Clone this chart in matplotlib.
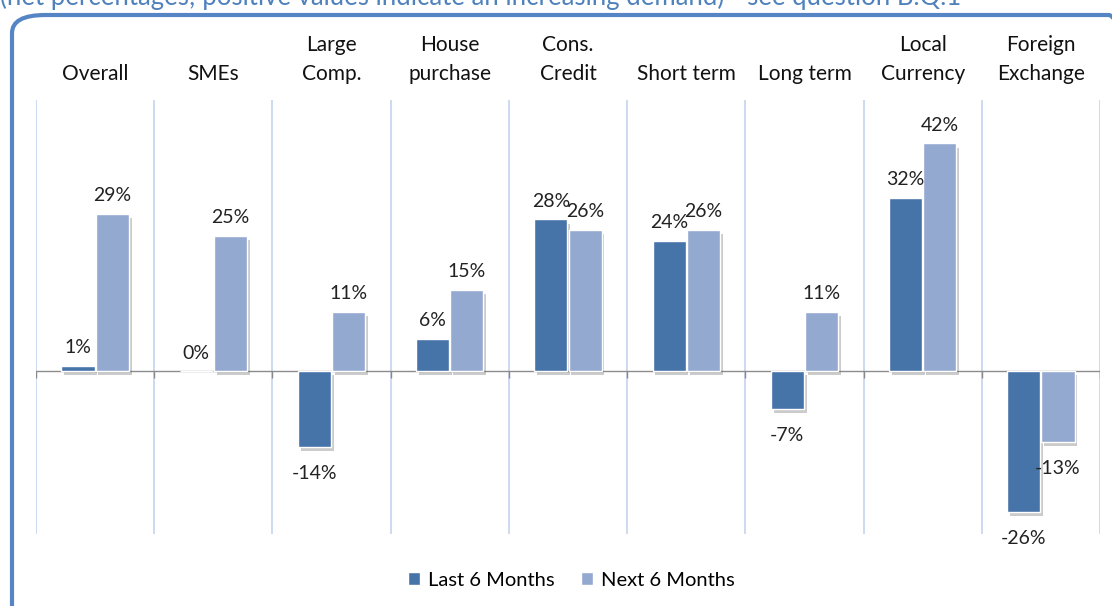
import numpy as np
import matplotlib.pyplot as plt
import matplotlib.patheffects as pe
from matplotlib.patches import FancyBboxPatch
from matplotlib.transforms import blended_transform_factory

plt.rcParams['font.family'] = ['Lato', 'DejaVu Sans']

# datos
categorias = ['Overall', 'SMEs', 'Large\nComp.', 'House\npurchase', 'Cons.\nCredit',
              'Short term', 'Long term', 'Local\nCurrency', 'Foreign\nExchange']
ultimos_6 = [1, 0, -14, 6, 28, 24, -7, 32, -26]
proximos_6 = [29, 25, 11, 15, 26, 26, 11, 42, -13]
series = ['Last 6 Months', 'Next 6 Months']

col_oscuro = '#4673a8'
col_claro = '#94a9d0'
col_borde = '#5585c4'

fig = plt.figure(figsize=(11.12, 6.06), dpi=100)
ax = fig.add_axes([36/1112, 72/606, 1064/1112, 434/606])

x = np.arange(len(categorias))
ancho = 0.28
sombra = [pe.SimplePatchShadow(offset=(2, -3), alpha=0.3, shadow_rgbFace='#555555'), pe.Normal()]

b1 = ax.bar(x - 0.145, ultimos_6, ancho, color=col_oscuro, edgecolor='white', linewidth=1,
            label=series[0], zorder=3)
b2 = ax.bar(x + 0.145, proximos_6, ancho, color=col_claro, edgecolor='white', linewidth=1,
            label=series[1], zorder=3)
for b in list(b1) + list(b2):
    if b.get_height() != 0:
        b.set_path_effects(sombra)

# etiquetas de datos
for barras, vals in [(b1, ultimos_6), (b2, proximos_6)]:
    for b, v in zip(barras, vals):
        cx = b.get_x() + b.get_width() / 2
        if v >= 0:
            ax.annotate(f'{v}%', (cx, v), xytext=(0, 7), textcoords='offset points',
                        ha='center', va='bottom', fontsize=14, color='#222222')
        else:
            ax.annotate(f'{v}%', (cx, v), xytext=(0, -13), textcoords='offset points',
                        ha='center', va='top', fontsize=14, color='#222222')

# separadores
limites = np.arange(len(categorias) + 1) - 0.5
for l in limites:
    ax.axvline(l, color='#c9d7f0', linewidth=1.3, zorder=1)
ax.vlines(limites, -1.2, 0, color='#888888', linewidth=1, zorder=2)
ax.axhline(0, color='#8c8c8c', linewidth=1, zorder=2)

ax.set_xlim(-0.5, len(categorias) - 0.5)
ax.set_ylim(-30, 50)
ax.set_xticks([])
ax.set_yticks([])
for s in ax.spines.values():
    s.set_visible(False)

# categorias arriba
tr = blended_transform_factory(ax.transData, fig.transFigure)
for xi, c in zip(x, categorias):
    ax.text(xi, 1 - 84/606, c, transform=tr, ha='center', va='bottom', fontsize=15,
            linespacing=1.55, color='#111111')

# leyenda (sin sombra)
h1 = plt.Rectangle((0, 0), 1, 1, facecolor=col_oscuro, edgecolor='white')
h2 = plt.Rectangle((0, 0), 1, 1, facecolor=col_claro, edgecolor='white')
fig.legend(handles=[h1, h2], labels=series, loc='center', ncol=2,
           bbox_to_anchor=(571/1112, 1 - 580/606), frameon=False, fontsize=14.5,
           handlelength=0.6, handleheight=0.6, columnspacing=1.3, handletextpad=0.4)

# marco redondeado
marco = FancyBboxPatch((12/1112, -20/606), 1130/1112, 606/606 - 15/606 + 20/606,
                       boxstyle='round,pad=0,rounding_size=0.03', transform=fig.transFigure,
                       facecolor='none', edgecolor=col_borde, linewidth=3, clip_on=False)
fig.patches.append(marco)

# titulo cortado arriba
fig.text(0.0, 1 - 5/606, '(net percentages; positive values indicate an increasing demand) - see question B.Q.1',
         ha='left', va='baseline', fontsize=18.5, color='#4f81bd')

plt.savefig('out.png', dpi=100)
